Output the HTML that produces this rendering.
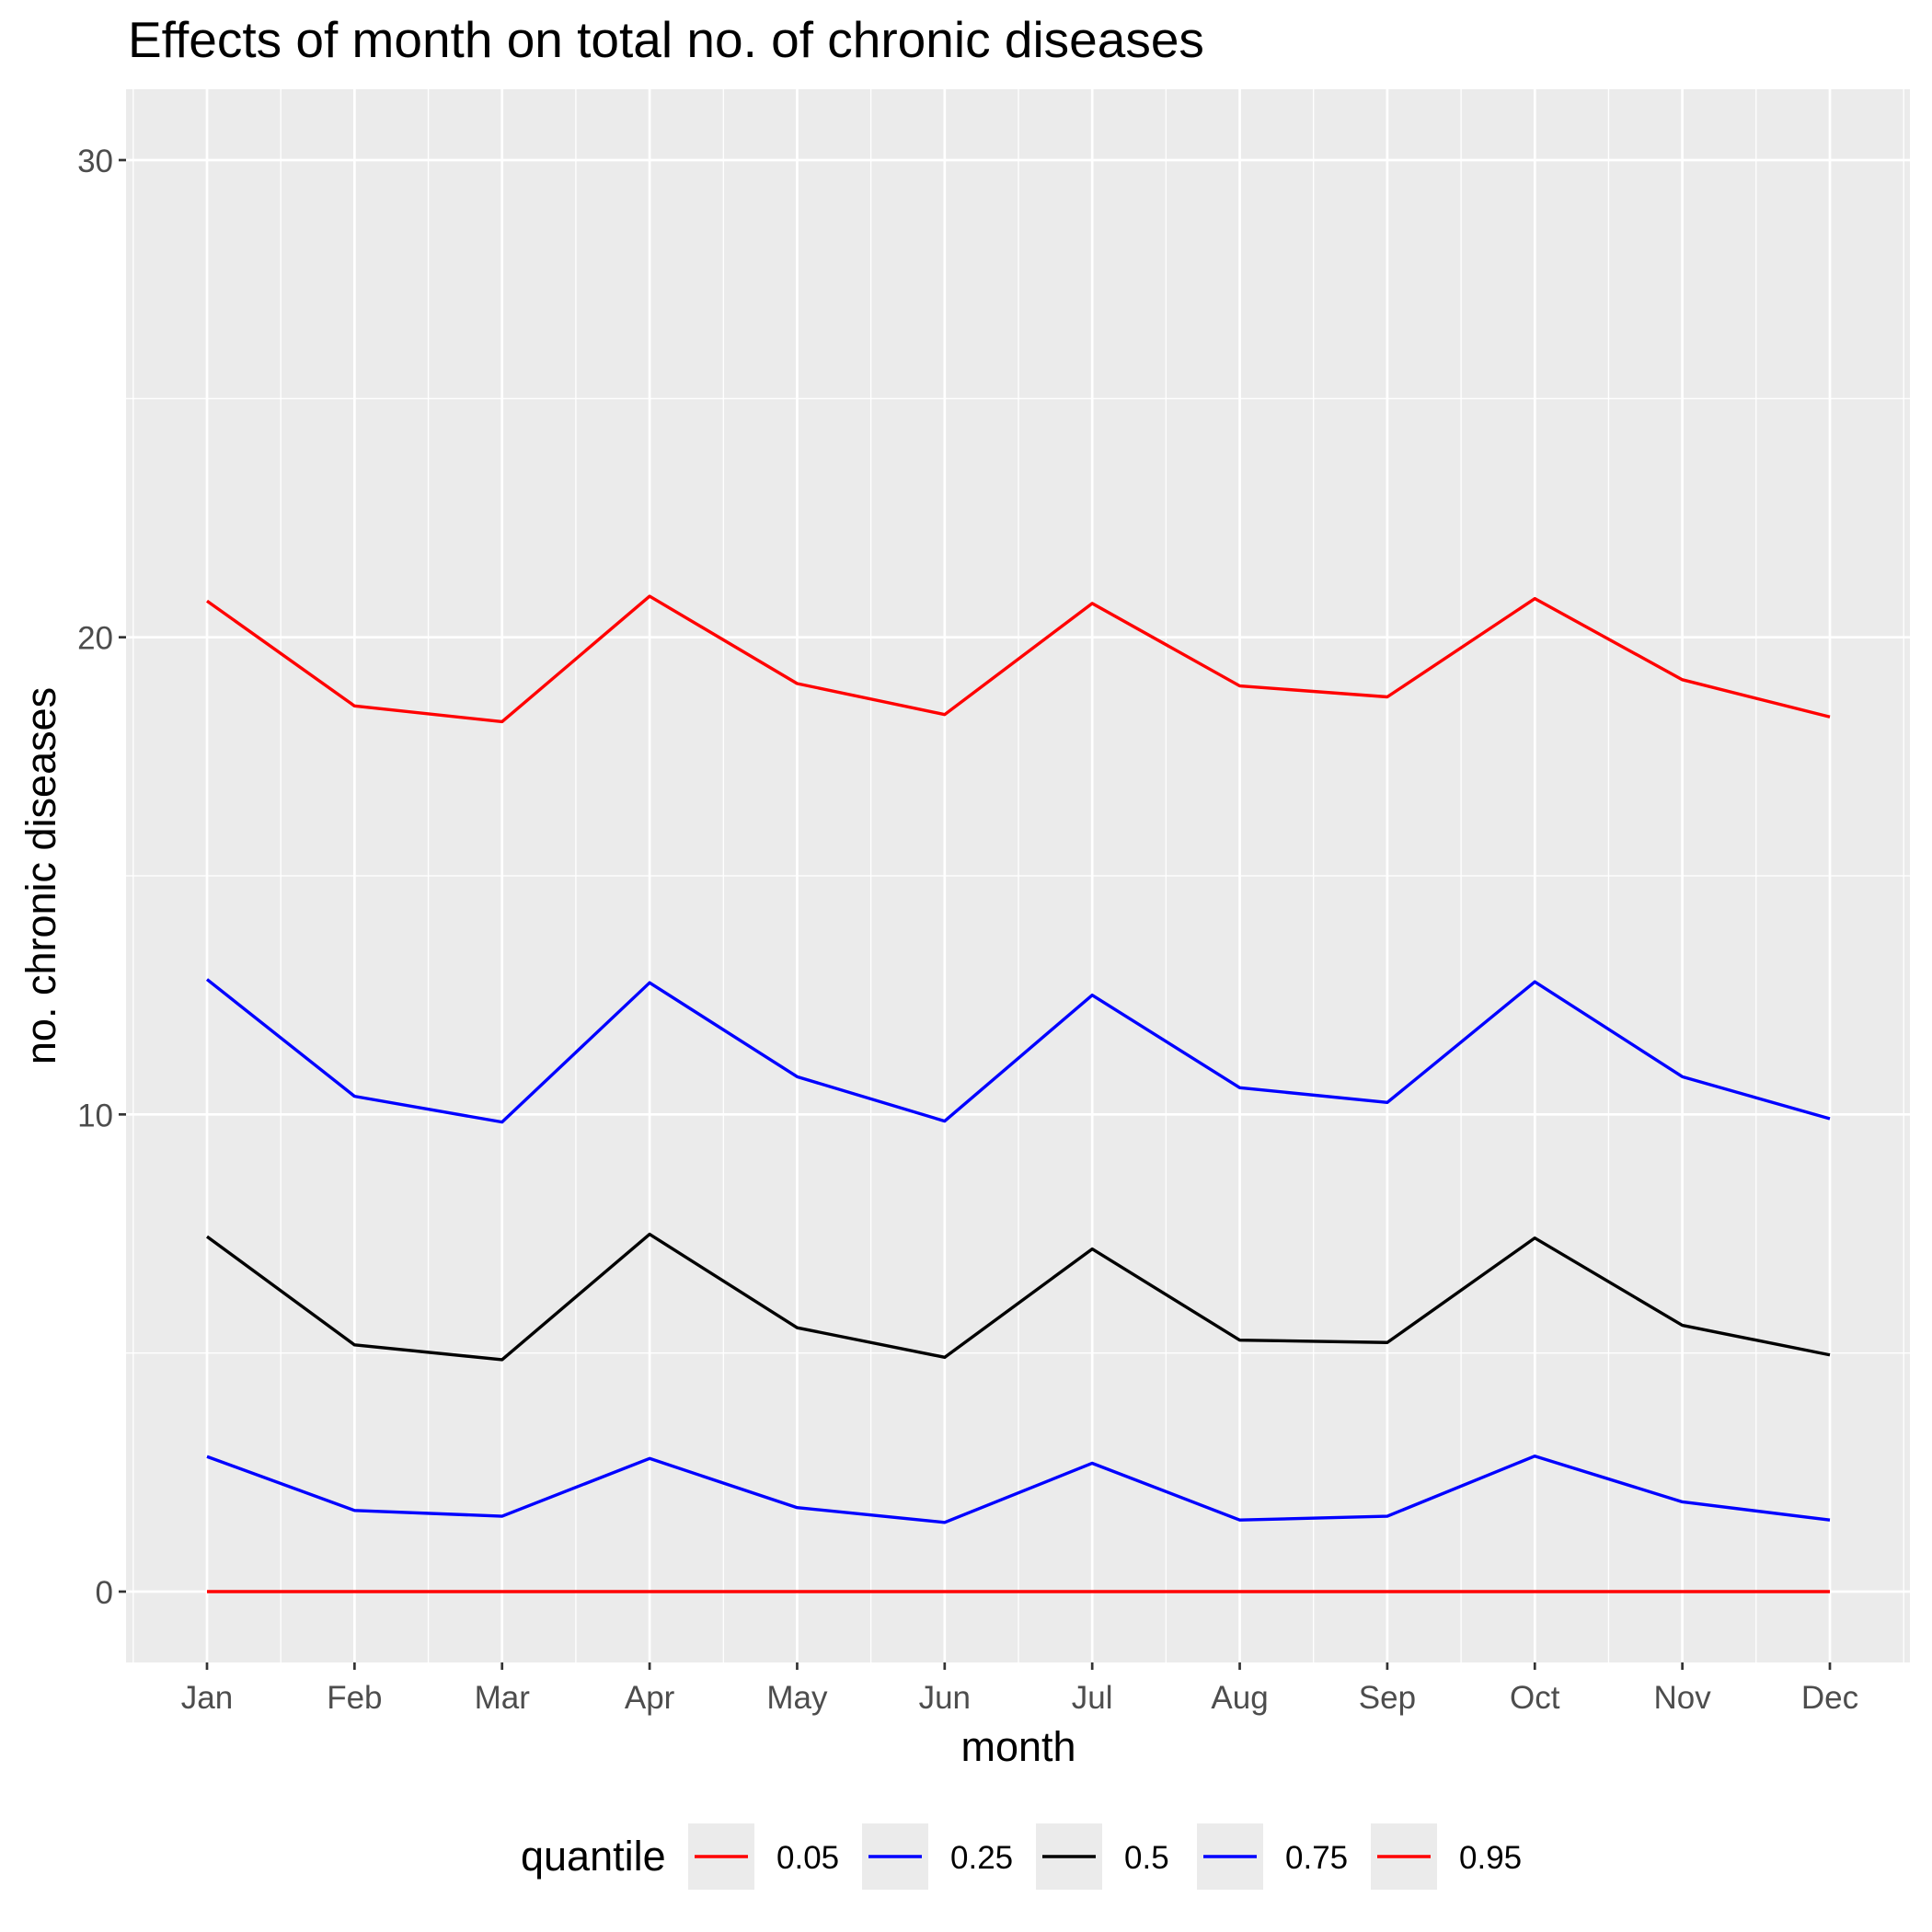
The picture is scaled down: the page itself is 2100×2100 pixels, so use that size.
<!DOCTYPE html>
<html><head><meta charset="utf-8"><style>
html,body{margin:0;padding:0;background:#fff}
svg{display:block;font-family:"Liberation Sans",Arial,sans-serif}
</style></head><body>
<svg id="chart" width="2100" height="2100" viewBox="0 0 2100 2100" xmlns="http://www.w3.org/2000/svg">
<text x="139" y="62" font-size="55" fill="#000">Effects of month on total no. of chronic diseases</text>
<rect x="137" y="97" width="1939" height="1710" fill="#ebebeb"/>
<g id="grid"></g>
<g id="series"></g>
<g id="axes"></g>
<text x="1107" y="1914" font-size="45" text-anchor="middle">month</text>
<text transform="translate(60,952) rotate(-90)" font-size="45" text-anchor="middle">no. chronic diseases</text>
<g id="legend">
<text x="566" y="2033" font-size="45">quantile</text>
</g>
</svg>
<script>
const months=["Jan","Feb","Mar","Apr","May","Jun","Jul","Aug","Sep","Oct","Nov","Dec"];
const q95=[20.76,18.56,18.23,20.86,19.03,18.38,20.71,18.98,18.75,20.81,19.11,18.33];
const q75=[12.83,10.38,9.84,12.76,10.79,9.86,12.50,10.56,10.25,12.78,10.79,9.91];
const q50=[7.44,5.17,4.86,7.49,5.53,4.91,7.18,5.27,5.22,7.41,5.58,4.96];
const q25=[2.83,1.70,1.58,2.79,1.76,1.45,2.69,1.50,1.58,2.84,1.88,1.50];
const q05=[0,0,0,0,0,0,0,0,0,0,0,0];
const yTicks=[0,10,20,30];
const yMinor=[5,15,25];
const quantileLabels=["0.05","0.25","0.5","0.75","0.95"];
const NS="http://www.w3.org/2000/svg";
const X0=137,X1=2076,Y0=97,Y1=1807;
const xs=i=>225+i*(1989-225)/(months.length-1);
const ys=v=>1730-v*(1730-174)/30;
function mk(tag,attrs,parent){const e=document.createElementNS(NS,tag);for(const k in attrs)e.setAttribute(k,attrs[k]);parent.appendChild(e);return e;}
const grid=document.getElementById('grid'),axes=document.getElementById('axes'),ser=document.getElementById('series'),leg=document.getElementById('legend');
yMinor.forEach(v=>{const l=mk('line',{x1:X0,x2:X1,y1:ys(v),y2:ys(v),stroke:'#fff','stroke-width':1.3},grid);

});
for(let i=0;i<=months.length;i++){const x=xs(i-0.5);const l=mk('line',{x1:x,x2:x,y1:Y0,y2:Y1,stroke:'#fff','stroke-width':1.3},grid);

}
yTicks.forEach(v=>{const y=ys(v);const l=mk('line',{x1:X0,x2:X1,y1:y,y2:y,stroke:'#fff','stroke-width':2.7},grid);


const t=mk('line',{x1:X0-8,x2:X0,y1:y,y2:y,stroke:'#333','stroke-width':2.7},axes);


const tx=mk('text',{x:X0-14,y:y+13,'font-size':35,'text-anchor':'end',fill:'#4d4d4d'},axes);tx.textContent=v;

});
months.forEach((m,i)=>{const x=xs(i);const l=mk('line',{x1:x,x2:x,y1:Y0,y2:Y1,stroke:'#fff','stroke-width':2.7},grid);


const t=mk('line',{x1:x,x2:x,y1:Y1,y2:Y1+8,stroke:'#333','stroke-width':2.7},axes);


const tx=mk('text',{x:x,y:Y1+50,'font-size':35,'text-anchor':'middle',fill:'#4d4d4d'},axes);tx.textContent=m;

});
const series=[[q05,'#ff0000','line-q05'],[q25,'#0000ff','line-q25'],[q50,'#000000','line-q50'],[q75,'#0000ff','line-q75'],[q95,'#ff0000','line-q95']];
series.forEach(([d,c,n])=>{const p=mk('polyline',{points:d.map((v,i)=>xs(i)+','+ys(v)).join(' '),fill:'none',stroke:c,'stroke-width':3.4,'stroke-linejoin':'round'},ser);

});
const keyX=[748,937,1126,1301,1490];
quantileLabels.forEach((lab,i)=>{const x=keyX[i];
const r=mk('rect',{x:x,y:1982,width:72,height:72,fill:'#ebebeb'},leg);


const l=mk('line',{x1:x+7,x2:x+65,y1:2018,y2:2018,stroke:series[i][1],'stroke-width':3.4},leg);


const t=mk('text',{x:x+96,y:2031,'font-size':35,fill:'#000'},leg);t.textContent=lab;

});
</script>
</body></html>
